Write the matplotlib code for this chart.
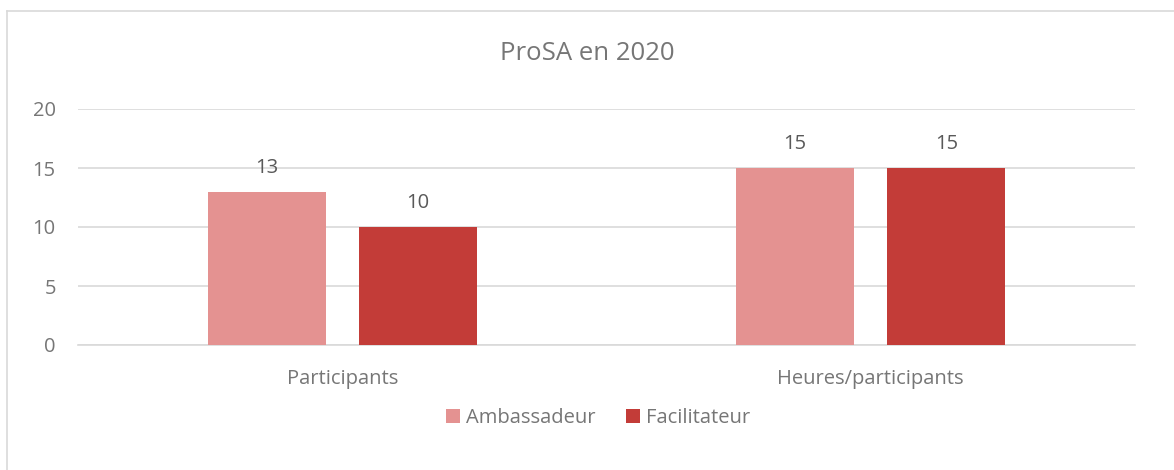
import matplotlib.pyplot as plt
import numpy as np
from matplotlib.lines import Line2D

categories = ['Participants', 'Heures/participants']
series_names = ['Ambassadeur', 'Facilitateur']
ambassadeur = [13, 15]
facilitateur = [10, 15]
colors = ['#E49291', '#C33C38']

plt.rcParams['font.family'] = ['Open Sans', 'DejaVu Sans']
text_color = '#767676'
label_color = '#595959'
grid_color = '#D9D9D9'

fig = plt.figure(figsize=(11.74, 4.70), dpi=100)
ax = fig.add_axes([78 / 1174, 1 - 345 / 470, (1135 - 78) / 1174, (345 - 109) / 470])

x = np.arange(len(categories))
width = 0.223
offset = 0.143

for vals, name, col, sign in zip([ambassadeur, facilitateur], series_names, colors, [-1, 1]):
    bars = ax.bar(x + sign * offset, vals, width, color=col, label=name, zorder=3)
    for b, v in zip(bars, vals):
        ax.annotate(str(v), (b.get_x() + b.get_width() / 2, v), xytext=(0, 17),
                    textcoords='offset points', ha='center', va='center',
                    fontsize=14.5, color=label_color)

ax.set_xlim(-0.5, 1.5)
ax.set_ylim(0, 20)
ax.set_yticks([0, 5, 10, 15, 20])
ax.yaxis.grid(True, color=grid_color, linewidth=1.2, zorder=0)
for s in ['top', 'right', 'left']:
    ax.spines[s].set_visible(False)
ax.spines['bottom'].set_color(grid_color)
ax.spines['bottom'].set_linewidth(1.2)
ax.tick_params(axis='both', length=0, labelsize=14.5, labelcolor=text_color)
ax.tick_params(axis='y', pad=16)
ax.tick_params(axis='x', pad=17)
ax.set_xticks(x)
ax.set_xticklabels(categories)

fig.text(0.5, 1 - 53 / 470, 'ProSA en 2020', ha='center', va='center',
         fontsize=18.5, color=text_color)

leg = fig.legend(loc='center', bbox_to_anchor=(598 / 1174, 1 - 418 / 470), ncol=2,
                 frameon=False, fontsize=14.5, handlelength=0.7, handleheight=0.7,
                 columnspacing=1.5, handletextpad=0.3)
for t in leg.get_texts():
    t.set_color(text_color)

# chart area border (top and left edges visible)
fig.add_artist(Line2D([7 / 1174, 7 / 1174], [0, 1 - 11 / 470], color=grid_color, lw=1.2))
fig.add_artist(Line2D([7 / 1174, 1], [1 - 11 / 470, 1 - 11 / 470], color=grid_color, lw=1.2))

fig.savefig('out.png', dpi=100)
